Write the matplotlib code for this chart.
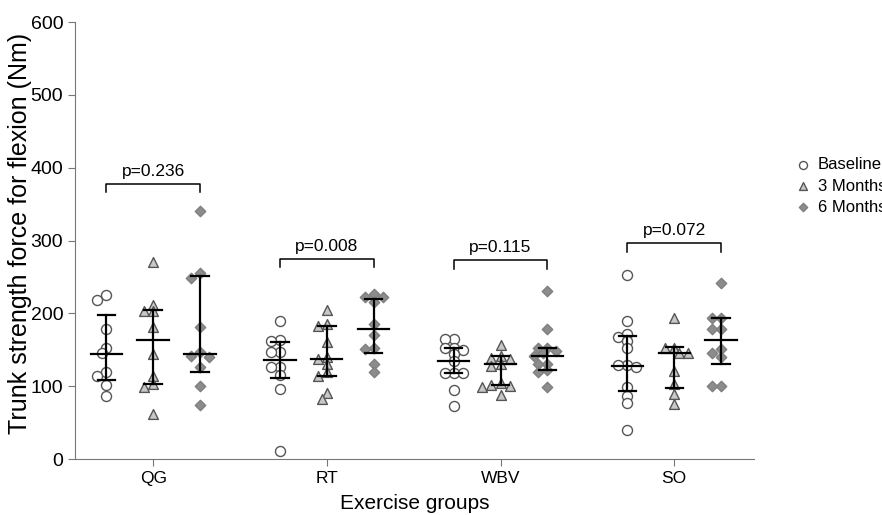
import matplotlib.pyplot as plt
import numpy as np

plt.rcParams['font.family'] = ['Liberation Sans', 'DejaVu Sans']

groups = ['QG', 'RT', 'WBV', 'SO']
times = ['Baseline', '3 Months', '6 Months']

# individual values (Nm)
qg_base = [225, 219, 178, 153, 145, 119, 114, 101, 86]
qg_3m = [271, 212, 203, 203, 181, 144, 114, 103, 99, 62]
qg_6m = [340, 255, 249, 181, 147, 141, 140, 126, 100, 74]
rt_base = [189, 163, 162, 147, 147, 126, 126, 115, 96, 11]
rt_3m = [204, 185, 182, 160, 140, 137, 130, 119, 114, 91, 83]
rt_6m = [226, 223, 222, 215, 186, 170, 152, 151, 131, 119]
wbv_base = [165, 165, 153, 153, 150, 144, 135, 118, 118, 118, 95, 73]
wbv_3m = [156, 141, 139, 138, 131, 128, 104, 101, 100, 99, 88]
wbv_6m = [231, 179, 153, 153, 148, 145, 141, 131, 131, 122, 119, 99]
so_base = [253, 190, 171, 168, 162, 153, 129, 129, 126, 99, 87, 77, 40]
so_3m = [193, 153, 152, 145, 145, 121, 103, 89, 75]
so_6m = [242, 193, 193, 178, 178, 151, 146, 140, 100, 100]

values = [
    [qg_base, qg_3m, qg_6m],
    [rt_base, rt_3m, rt_6m],
    [wbv_base, wbv_3m, wbv_6m],
    [so_base, so_3m, so_6m],
]

# median and interquartile range lines as shown in the chart
medians = [[144, 163, 144], [136, 137, 178], [134, 131, 141], [128, 145, 164]]
lower = [[108, 103, 119], [111, 114, 145], [118, 101, 122], [93, 97, 131]]
upper = [[198, 205, 251], [161, 182, 220], [153, 141, 153], [169, 154, 193]]

p_values = ['p=0.236', 'p=0.008', 'p=0.115', 'p=0.072']
bracket_y = [378, 275, 273, 296]

markers = ['o', '^', 'D']
faces = ['white', '#c8c8c8', '#8c8c8c']
edges = ['#555555', '#555555', '#808080']
sizes = [52, 50, 28]
offset = 0.27


def swarm(vals, dx, dy):
    # simple beeswarm: place each point as near the centre as possible
    placed = []
    xs = []
    cands = [0]
    for k in range(1, 12):
        cands += [-k * dx / 2, k * dx / 2]
    for v in vals:
        for c in cands:
            ok = True
            for px, py in placed:
                if ((c - px) / dx) ** 2 + ((v - py) / dy) ** 2 < 1.0:
                    ok = False
                    break
            if ok:
                break
        placed.append((c, v))
        xs.append(c)
    return np.array(xs)


fig = plt.figure(figsize=(8.82, 5.15), dpi=100)
ax = fig.add_axes([0.085, 0.1087, 0.770, 0.8485])

handles = []
for g in range(len(groups)):
    for t in range(3):
        xc = g + (t - 1) * offset
        vals = values[g][t]
        xs = xc + swarm(vals, 0.052, 9.0)
        sc = ax.scatter(xs, vals, marker=markers[t], s=sizes[t], facecolor=faces[t],
                        edgecolor=edges[t], linewidths=1.0, zorder=2)
        if g == 0:
            handles.append(sc)
        ax.plot([xc, xc], [lower[g][t], upper[g][t]], color='black', lw=1.6, zorder=3)
        ax.plot([xc - 0.05, xc + 0.05], [lower[g][t]] * 2, color='black', lw=1.6, zorder=3)
        ax.plot([xc - 0.05, xc + 0.05], [upper[g][t]] * 2, color='black', lw=1.6, zorder=3)
        ax.plot([xc - 0.09, xc + 0.09], [medians[g][t]] * 2, color='black', lw=1.6, zorder=3)

    # significance bracket
    x1, x2 = g - offset, g + offset
    yb = bracket_y[g]
    ax.plot([x1, x1, x2, x2], [yb - 12, yb, yb, yb - 12], color='black', lw=1.1)
    ax.text(g, yb + 7, p_values[g], ha='center', va='bottom', fontsize=12.5)

ax.set_xlim(-0.45, 3.46)
ax.set_ylim(0, 600)
ax.set_yticks(range(0, 601, 100))
ax.set_xticks(range(len(groups)))
ax.set_xticklabels(groups)
ax.tick_params(axis='both', color='#777777', length=5)
ax.tick_params(axis='y', labelsize=14)
ax.tick_params(axis='x', labelsize=12.5)
ax.spines['top'].set_visible(False)
ax.spines['right'].set_visible(False)
ax.spines['left'].set_color('#777777')
ax.spines['bottom'].set_color('#777777')
ax.spines['bottom'].set_linestyle((0, (1.5, 1.0)))
ax.set_ylabel('Trunk strength force for flexion (Nm)', fontsize=18)
ax.yaxis.set_label_coords(-0.064, 0.516)
ax.set_xlabel('Exercise groups', fontsize=15, labelpad=6)

fig.legend(handles, times, loc='upper left', bbox_to_anchor=(0.891, 0.711),
           frameon=False, fontsize=12, handletextpad=0.4, borderpad=0,
           labelspacing=0.38, markerscale=0.8, handlelength=1.0)

fig.savefig('out.png', dpi=100)
